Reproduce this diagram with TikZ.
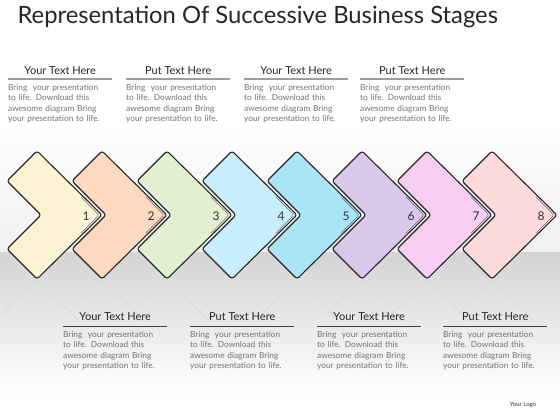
\documentclass[tikz,border=0pt]{standalone}
\usepackage{fontspec}
\setmainfont{Lato}
\usetikzlibrary{positioning,calc}

\definecolor{stageA}{HTML}{FBF3D3}
\definecolor{stageB}{HTML}{FCD9BF}
\definecolor{stageC}{HTML}{E2F0D2}
\definecolor{stageD}{HTML}{C9EEFB}
\definecolor{stageE}{HTML}{A9E4F7}
\definecolor{stageF}{HTML}{D9C8EA}
\definecolor{stageG}{HTML}{F7CDF1}
\definecolor{stageH}{HTML}{FCDADA}

\newcommand{\stagetext}{Bring\ \ your presentation\\to life. Download this\\awesome diagram Bring\\your presentation to life.}

\begin{document}
\begin{tikzpicture}[
    x=1pt, y=-1pt,
    chev/.style={draw=black!85, line width=1.1pt, rounded corners=2.5pt, line join=round},
    tipline/.style={draw=black!55, line width=0.5pt, rounded corners=2pt},
    refl/.style={draw=black!14, line width=0.9pt},
    head/.style={font=\fontsize{11}{12}\selectfont, text=black!85, inner sep=1pt},
    body/.style={font=\fontsize{8.3}{10.4}\selectfont, text=black!55, text width=104pt, align=left, inner xsep=0pt, inner ysep=5pt, anchor=north west},
    rulet/.style={draw=black!38, line width=1.4pt},
    ruleb/.style={draw=black!75, line width=0.8pt},
    num/.style={font=\fontsize{12}{12}\selectfont, text=black!80}
]
\useasboundingbox (0,0) rectangle (560,420);

% Background and floor
\fill[white] (0,0) rectangle (560,420);
\fill[top color=white, bottom color=black!6] (0,125) rectangle (560,252);
\fill[top color=black!17, bottom color=white] (0,252) rectangle (560,395);

% Title
\node[font=\fontsize{23.8}{27}\selectfont, text=black!85, anchor=west] (title) at (14,17) {Representation Of Successive Business Stages};

% Reflections
\foreach \a in {37,102,167,232,297,362,427,492} {
    \draw[refl] (\a-36,315) -- (\a,279) -- (\a+42,321);
}

% Stages (back to front)
\foreach \n/\a/\c in {8/492/stageH, 7/427/stageG, 6/362/stageF, 5/297/stageE, 4/232/stageD, 3/167/stageC, 2/102/stageB, 1/37/stageA} {
    \draw[chev, fill=\c] (\a,151) -- (\a+65,215) -- (\a,279) -- (\a-30,249) -- (\a+4,215) -- (\a-30,181) -- cycle;
    \draw[tipline] (\a+44,197) -- (\a+62,215) -- (\a+44,233);
    \node[num] (n\n) at (\a+49,216) {\n};
}

% Top texts
\foreach \i/\x/\t in {1/8/Your, 2/126/Put, 3/244/Your, 4/360/Put} {
    \node[body] (tb\i) at (\x,79) {\stagetext};
    \draw[rulet] (tb\i.north west) -- (tb\i.north east);
    \node[head, above=3pt of tb\i.north] (th\i) {\t\ Text Here};
}

% Bottom texts
\foreach \i/\x/\t in {1/63/Your, 2/190/Put, 3/317/Your, 4/443/Put} {
    \node[body] (bb\i) at (\x,326) {\stagetext};
    \draw[ruleb] (bb\i.north west) -- (bb\i.north east);
    \node[head, above=4pt of bb\i.north] (bh\i) {\t\ Text Here};
}

% Logo
\node[font=\fontsize{6}{7}\selectfont, text=black!80] (logo) at (523,405) {Your Logo};

\end{tikzpicture}
\end{document}
